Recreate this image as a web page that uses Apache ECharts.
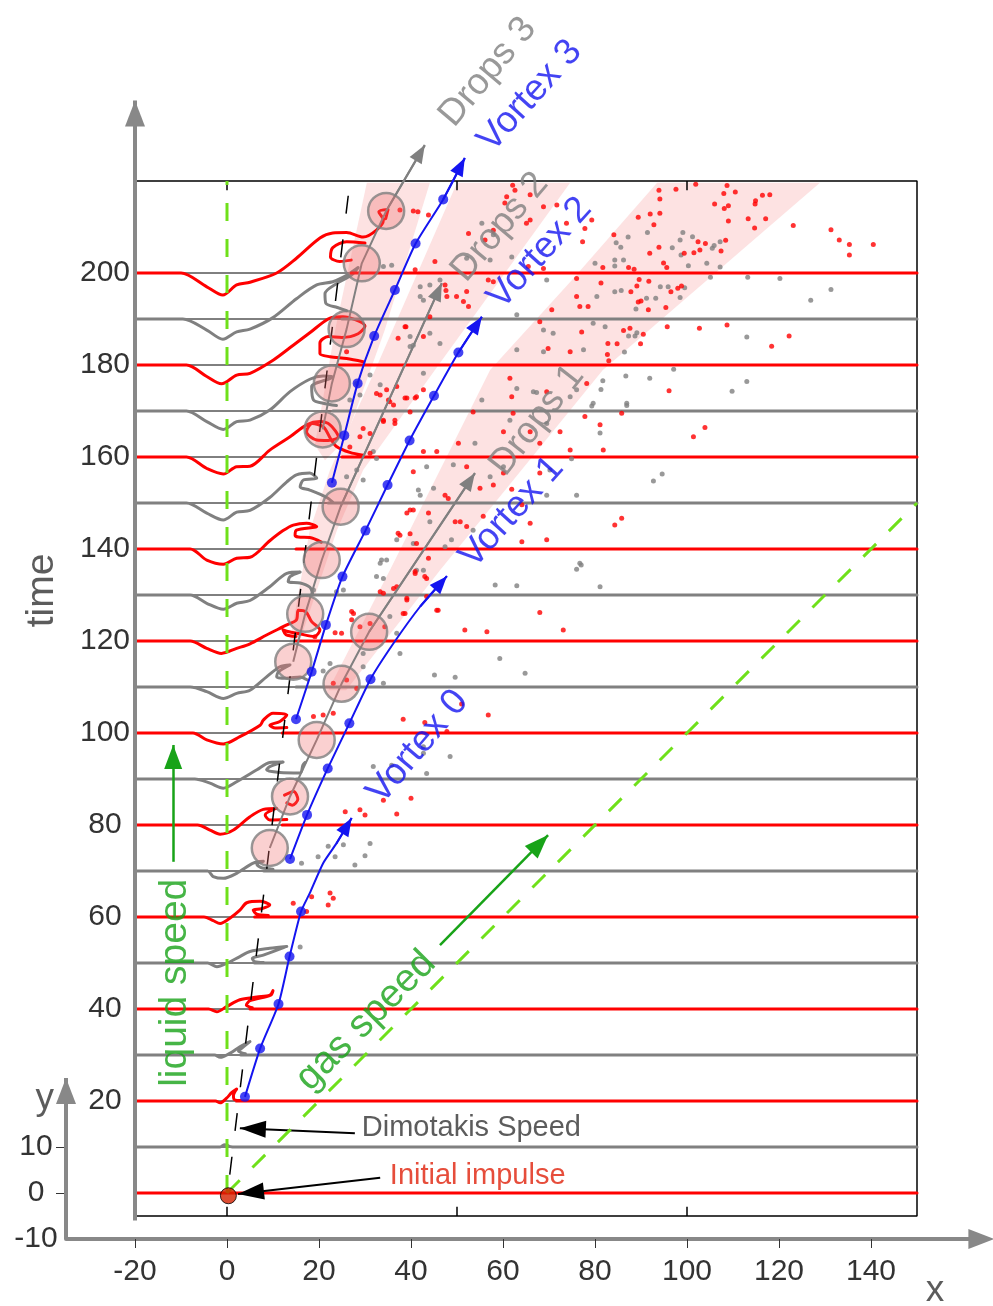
<!DOCTYPE html>
<html>
<head>
<meta charset="utf-8">
<script src="https://cdn.jsdelivr.net/npm/echarts@6.0.0/dist/echarts.min.js"></script>
<style>
html,body{margin:0;padding:0;background:#fff}
#chart{width:993px;height:1306px}
</style>
</head>
<body>
<div id="chart"></div>
<script>
const FONT = 'Liberation Sans, Arial, sans-serif';
const RED = '#ff0000', GRAY = '#808080', BLUE = '#1414f0', GREEN = '#18a318', LIGHTGREEN = '#6fe01a';

// tick labels
const xTicks = [-20, 0, 20, 40, 60, 80, 100, 120, 140];
const yTicks = [-10, 0, 10];
const yTickMarks = [0, 10];
const timeTicks = [20, 40, 60, 80, 100, 120, 140, 160, 180, 200];

// interface profiles, one per time level (null = pen up)
const levels = [0, 10, 20, 30, 40, 50, 60, 70, 80, 90, 100, 110, 120, 130, 140, 150, 160, 170, 180, 190, 200];
const prof0 = [[-20,0],[0,0]];
const prof10 = [[-20,10],[-1.5,10],[-0.5,10.5],[0.4,10.2],[1.2,10]];
const prof20 = [[-20,20],[-2.5,20],[-1.5,19.6],[-0.1,20.6],[1,21.8],[2.1,22.6],[1.4,21.2],[1.6,20.3],[3,20.1]];
const prof30 = [[-20,30],[-2.7,30],[-1.5,29.5],[0.7,30.4],[2.8,31.8],[5,32.9],[3.5,31.7],[2.5,30.8],[4,30.3]];
const prof40 = [[-20,40],[-4,40],[-2.2,39.4],[-0.1,40.5],[2.8,42],[6.5,42.6],[9.3,43],[10,44],[9.5,43],[5,41.8],[4.2,40.8],[5.5,40.3]];
const prof50 = [[-20,50],[-4.2,50],[-2.2,49.2],[-0.1,49.9],[2.8,51.4],[5,52.5],[9.3,53.2],[13,53.6],[7.9,51.7],[5.5,51],[6,50.3],[8,50.1]];
const prof60 = [[-20,60],[-5,60],[-3,59.2],[-1.5,58.6],[0.7,59.8],[2.8,61.5],[4.3,63.1],[7.2,63.4],[9.3,62.6],[7.5,61.8],[5.7,61.5],[6.5,60.6],[9,60.3]];
const prof70 = [[-20,70],[-4.2,70],[-3,68.8],[-0.8,68.4],[2.1,69.5],[5.7,71.7],[7.9,72.1],[6.5,71.4],[7.5,70.7],[10,70.4]];
const prof80 = [[-20,80],[-6.4,80],[-3.7,78.9],[-1.5,78],[1.4,78.9],[5,81.8],[7.9,83.4],[10.8,83.6],[8.3,82.2],[9.3,81.1],[13,81.2],null,[12.5,86.5],[14.5,87.3],[15.4,85.6],[14.2,84.3],[13,84.8]];
const prof90 = [[-20,90],[-7,90],[-3.7,89.1],[-0.8,88],[2.1,89.4],[6.5,92],[9.3,93.6],[12.2,93.7],[9.3,92.7],[8.6,92],[11.5,91.4],[15.9,91.3],[16.5,93],[17,93.6]];
const prof100 = [[-20,100],[-7.4,100],[-4.4,98.5],[-0.8,97.6],[2.8,99.2],[7.2,101.7],[7.9,102.8],[10,104.3],[13,103.9],[11.5,102.5],[9.3,101.7],[10.5,101.1],[13,101.2]];
const prof110 = [[-20,110],[-8,110],[-4.4,109],[-0.8,107.5],[2.1,108.6],[5,109.3],[8.6,112.2],[11.5,114.4],[13.7,114.8],[11.2,113.3],[10.8,112.2],[13,111.9],[15.9,112.2],[17.5,111.5]];
const prof120 = [[-20,120],[-8,120],[-4.4,118.4],[-1.2,117.3],[2.1,118.4],[5,119.4],[8.6,121.3],[13,123.5],[15.1,124.6],[15.5,126.7],[17.2,126.3],[18.4,124.2],[20.2,122.4],[19,121],[16,121.5],[13.5,122],[12.2,122.4],[12.8,121.4],[15,121]];
const prof130 = [[-20,130],[-8,130],[-4.4,128.2],[-0.8,126.9],[2.1,128.2],[5,128.8],[9.3,131.8],[13,134.7],[15.9,135],[13.7,134],[13.3,132.9],[15.9,132.6],[18,131.7],[18.6,130.4]];
const prof140 = [[-20,140],[-8,140],[-4.4,137.6],[-0.8,136.7],[2.1,138],[5,138.2],[9.3,141.8],[12.2,144],[14.4,145.2],[17.3,145.6],[19.5,144.9],[15.1,144.1],[14.8,143],[15.5,142.6],[18,142.5],[20.5,141.5]];
const prof150 = [[-20,150],[-8.8,150],[-4.4,147.8],[-0.8,146.3],[2.1,148],[5,148.4],[9.3,151.2],[13,154.6],[15.1,156.1],[18,156.5],[19.5,155.4],[16.6,155],[15.9,153.5],[18,152.8],[21.7,151.2],[23.1,150.1]];
const prof160 = [[-20,160],[-8.8,160],[-4.4,157.5],[-0.8,156.3],[2.1,157.9],[5,158],[9.3,161.5],[13.7,164.4],[17.3,167],[20.2,167.7],[22.4,167],[24.2,164.4],[22,163.6],[19.5,163.7],[17.3,165.5],[18.5,167.3],[21,166.5],[22.5,164],[23.8,162.3],[26.7,161],[29.6,160.4]];
const prof170 = [[-20,170],[-8.8,170],[-4.4,167.7],[-0.8,166],[2.1,167.7],[5,168],[9.3,170.2],[13.7,174.2],[18,176.9],[20.9,177.6],[23,177.4],[18.4,175.3],[18.8,172.4],[20.9,171.7],[23.8,171.2]];
const prof180 = [[-20,180],[-8.8,180],[-4.4,177.5],[-1.2,175.9],[2.1,177.8],[5,178.2],[10.1,181.1],[14.4,184.3],[18,187],[22.4,190.2],[25.2,190.5],[28,189.8],[30,188.5],[28.5,186.8],[25,186],[22,186.2],[20.2,184.8],[20.2,182.5],[22.4,181.8],[26,181.4],[29.6,180.7]];
const prof190 = [[-20,190],[-9.6,190],[-4.4,187.6],[-0.9,185.6],[2.1,187.2],[5,187.8],[10,190.3],[15.1,194.4],[19.5,197.4],[23,198.1],[26,199.5],[28.5,201.2],[27,199.5],[24,197.8],[21.3,195.5],[21.5,193.4],[24,192.5],[26,191.8]];
const prof200 = [[-20,200],[-10,200],[-4.4,197],[-0.9,195.2],[2.1,197.4],[5,198],[10.8,200],[15.1,203.2],[20.2,207.6],[23,208.7],[26,208.8],[29.6,207.8],[32.5,209.3],[34,211.5],[33,213.3],[35,213.8],[34.5,211.8],null,[30,206.5],[26,206.8],[23,205.5],[22.5,203.5],[24.5,202.5],[27,202.8]];
const profiles = [prof0, prof10, prof20, prof30, prof40, prof50, prof60, prof70, prof80, prof90, prof100, prof110, prof120, prof130, prof140, prof150, prof160, prof170, prof180, prof190, prof200];
// where the flat, undisturbed part of each level line starts again
const rightStart = [0, 1.2, 2, 3, 5, 6, 6, 8, 12, 15, 12, 15, 15, 16, 15, 22, 25, 23, 24, 25, 27];

// frame of the inner plot
const frame = [[-20,-5],[150,-5],[150,220],[-20,220],[-20,-5]];
const frameTicks = [0, 50, 100];

// vortex tracks (dots) and their arrow tails
const vortex0 = [[3.9,20.9],[7.2,31.4],[11.2,41.1],[13.6,51.4],[16.1,61.2]];
const vortex0Tail = [[18,65.2],[20.9,71.7],[23.8,76],[27.1,81.5]];
const vortex1 = [[13.7,72.6],[17.4,82.2],[21.9,92.3],[26.6,102.1],[31.2,111.7]];
const vortex1Tail = [[36.2,119.5],[42,127.5],[47.8,134.1]];
const vortex2 = [[15,103],[18.4,113.3],[21.5,123.5],[25.1,134],[30.1,144],[34.9,153.9],[39.7,163.6],[45,173.3],[50.3,182.7]];
const vortex2Tail = [[55.4,190.5]];
const vortex3 = [[22.8,154.4],[25.5,164.7],[28.4,176],[32,186.3],[36.5,196.3],[41,206.4],[47,216]];
const vortex3Tail = [[51.7,225]];

// drop clusters (circles) and arrow tips
const drops1 = [[9.3,75],[13.7,86.2],[19.5,98.5],[24.9,110.7],[30.9,122]];
const drops1Tip = [53.9,156.5];
const drops2 = [[14.4,115.5],[17,125.9],[20.6,137.6],[24.7,149.2]];
const drops2Tip = [46.7,197.8];
const drops3 = [[20.8,166],[22.8,176],[26,187.8],[29.3,202.1],[34.6,213.5]];
const drops3Tip = [43,227.8];

// pink spray bands
const band1 = [[93.5,219.6],[75,198.5],[57.2,178.9],[35.4,135.4],[22,109.3],[25.9,109.3],[46.3,135.4],[81.7,178.9],[128.9,219.6]];
const band2 = [[50,219.6],[32.2,178.9],[22.4,157.2],[18,144.1],[13.7,120.2],[15.9,120.2],[23.9,144.1],[29.6,157.2],[45.2,178.9],[74.6,219.6]];
const band3 = [[30.4,219.6],[23.5,187.6],[19.1,162.6],[21.3,159.3],[25.7,163.7],[34.3,187.6],[44.1,219.6]];

// droplets
const redDrops = [
[93.9,218],[97.6,218.2],[101.9,219.3],[108.7,219],[110.5,217.6],[108,217.3],[94.1,216.1],[106,215],[109,214.6],[108.1,214],[114.9,215.7],[116.4,216.9],[118,217],[114.8,215],[89.4,212.1],[92,212.8],[94.1,213],[92.8,210.5],[109,211.3],[113.3,211.8],[117.1,211.8],[114.7,209.8],[123.1,210.3],[131.3,209.4],[133.1,207.2],[135.3,206.2],[135.3,203.9],[140.5,206.2],[84.1,208.3],[102.4,206.8],[104,206.4],[108.4,207.1],[107.4,204.8],[102.8,205],[101.5,204.4],[99.4,204.3],[91.9,204.3],[93.9,205.6],[94.9,202.2],[81.7,201.2],[87.3,201.2],[88.5,200.8],[95.6,201.2],[89.6,198.6],[91.7,198.2],[81.3,197.8],[89.1,197.2],[87.8,195.9],[96.5,195.9],[98,196.7],[98.8,197.2],[90,193.9],[89.4,193.7],[95.4,192.5],[91.6,192],[95.7,188.3],[102.7,188],[108.7,188.7],[86.2,187.5],[87.6,188],[90.5,186.7],[82.8,184.7],[84.8,184.6],[89.9,184.6],[118.4,184.1],[122.2,186.3],[82.7,182.3],[83,180.9],[96.1,174.4],[85.8,169.5],
[62.1,219.1],[62.6,218],[60.8,216.6],[60.4,215.2],[65.9,217],[68.8,214.4],[71.7,214.8],[73.8,210.8],[79.3,211.5],[77.8,209.7],[77.3,206.8],[65.9,211.5],[65.1,210.8],[52.5,208.6],[57.9,209.3],[56.1,207.2],[45.2,202.5],[47.4,197.4],[47.6,196.2],[47.8,194.9],[49.9,194.9],[52.5,192.7],[51.4,193.8],[56.8,198.5],[57.9,198.1],[65.5,201.4],[68.8,201],[76,198.8],[76,194.9],[76.7,192.7],[78.5,192.7],[70.6,192],[68,189.4],[77.1,187.2],[74.6,182.9],[69.8,183.6],[38.9,188.3],[44.1,190.5],[37.2,185.8],[41.5,213.3],[43.8,212.6],[52.1,196],
[33.3,173.5],[35.4,172],[36.9,175.3],[38.7,172.8],[41.2,173.1],[34,167.7],[36.5,167.3],[29.6,166.2],[31.1,160.8],[45.6,161.2],[50.3,163],[53.5,169.8],[62.2,169.5],[60.1,165.5],[61.9,173.1],[65.9,165.5],[68,163],[74.6,161.5],[77.8,168.8],[81.1,167],[81.8,161.5],[68,156.5],[60.1,156.5],[57.9,153.9],[55,153.2],[52.1,157.9],[47.4,151.7],[48.1,151],[39.8,148.5],[43.8,147.8],[50.7,145.9],[52.1,144.9],[55.7,147.1],[64.1,149.6],[65.9,145.6],[69.5,142],[37.2,143.4],[39.8,143.3],[43.8,138],[84.3,145.2],[85.8,146.7],[78.2,176],[69.5,174.2],[72.4,165.5],[61.5,177.1],
[101.4,164.4],[103.9,166.4],[61.9,153],[49.6,145.9],[64.1,141.6],[45.9,126.7],[68,126.2],[51.7,122.4],[56.5,122],[73.1,122.4],
[40.9,134.7],[43.4,133.6],[36.9,131.8],[33.3,130.7],[43.4,129.7],[39.1,128.9],[45.6,126.7],[38.7,126],[34.3,123.1],[27.5,126],[27.1,124.6],[23.5,121.8],[24.9,121.7],[51,106.3],[56.8,103.9],[38.3,103],[43,102.3],[47.8,100.3],[34,85.4],[40,85.8],[25.7,82.9],[28.9,83.3],[36.9,82.4],[23.1,110.8],[26,111.5],[28.2,109.7],[18.8,103.6],[20.9,103.9],[23.1,104.3],[28.9,123.1],[31.1,123.8],
[30,82.2],[22.4,65.2],[23.1,64.1],[22,62.6],[18.4,64.4],[17.3,61.2],[14.4,63],
[32.5,173.8],[35.1,172.4],[36.2,171.3],[34.7,174.6],[39.1,172.8],[40.9,172.8],[39.8,169.8],[42.7,174.6],[36.5,168],[34,168],[31.1,165.1],[28.9,164.4],[26.7,162.2],[39.1,147.8],[40.5,148.5],[37.6,143],[42.7,161.2],[40.5,156.8],[26,182.9],
[37.6,213.7],[40.5,213.5],[40.9,200.7],[38.7,188.3],[42.7,186.2],
[41.2,141.2],[40.9,135.1],[43,134],[39.1,129.3],[38.3,126],[36.2,131.4],[34,130.4],[27.1,126.4],[19.1,120.9]
];
const grayDrops = [
[84.6,206.6],[85.6,205.6],[87.2,207.8],[91.4,208.8],[99.1,208.8],[98.5,207.2],[101.2,207.9],[96.8,205.5],[98.7,203.9],[105.5,205.4],[105.9,206],[107.2,206.8],[84.3,202.8],[86.2,202.8],[84.3,201.5],[100.3,201.6],[104.3,202.1],[107.2,201.3],[105.1,199.1],[113.2,199.1],[120.2,198.8],[131.3,196.4],[126.9,194.1],[84.3,195.9],[85.7,196.2],[94.2,197],[95.9,197],[99.5,196.8],[98.5,194.7],[91.2,194.5],[93.2,194.5],[88.9,192.2],[82.2,188.3],[87.3,186.3],[88.7,186.3],[89.1,187],[113,186.1],[86.4,182.8],[97.1,179.1],[91.9,177.1],[86.7,177.6],[81.7,176.6],[81.3,174.7],[109.8,174.3],[113,176.4],[86.9,171.2],
[55.4,210.8],[57.9,208.3],[61.9,203.5],[57.2,202.8],[52.1,203.2],[44.1,197.4],[42,194.9],[46.3,198.5],[63,190.9],[69.5,198.5],[80,202.1],[80.4,194.9],[79.6,189.1],[68.8,187.6],[70.9,186.9],[68.8,182.9],[77.5,183.3],[44.1,186.9],[39.8,184],[46.3,184.7],[63,183.3],
[28.9,173.5],[33.3,175.7],[55.4,172.4],[61.5,168],[63,174.9],[66.6,174.2],[69.5,167.3],[74.6,173.1],[79.6,171.7],[81.1,165.2],[86.9,171.7],[53.9,163],[49.2,158.3],[57.2,155.7],[60.1,157.9],[69.5,151.7],[76,151.7],[70.2,157.2],[41.6,152.8],[44.9,153.2],[44.1,145.9],[48.8,142],[47.4,140.5],[53.5,144.1],[76.7,136.9],[33.6,137.6],[36.9,142],
[67.3,174],[76,174.6],[79.3,171.1],[74.9,159.6],[92.7,154.8],[94.6,156.3],[58.3,132.2],[63,132],[76,135.6],[77,136.5],[81.1,131.8],
[33.3,136.9],[42.7,135.4],[59.3,116.2],[64.8,113],[49.6,112.1],[45.1,112.6],[42.7,97],[48.5,94.9],[43.4,91.2],[31.8,92.7],[31.1,76],[25.3,75.7],[30,73.3],[29.6,117.3],[35.4,125.3],
[27.8,71.3],[19.8,73.1],[23.5,73.1],[22,75.4],[16.2,71.7],[35.8,93],[42.7,95.6],
[40.5,184.3],[31.1,177.8],[28.2,176],[26.7,172.4],[29.6,155],[28.2,157.2],[26,155.7],[31.8,161.2],[32.5,159.7],[42,151.7],[43.4,157.9],[42.7,178.2],
[34,201.4],[35.8,201.7],[42,197],[42.7,194.1],[39.8,186.2],
[40.5,141.2],[34.7,137.6],[34,133.6],[32.5,134],[41.2,135.4],[36.9,121.7],[37.6,117.3],[25.3,131.1],[23.8,130.7],[20.9,113.5],[22.4,115.1],[29.6,114.4],[34,110.8],[18.8,131.1],
[15.9,53.5]
];

// speed lines
const liquidSpeed = [[0,0],[0,220]];
const gasSpeed = [[0,0],[150,150]];
const dimotakis = [[0.6,4],[26.5,218]];
const impulse = [[0.3,-0.6]];

// arrows [from, to]
const axisArrows = [[[-20,-6],[-20,237.5]], [[-35,-10],[-35,25]]];
const noteArrows = [[[27.8,13],[2.8,14.1]], [[33.3,3.3],[2.4,-0.2]]];
const greenArrows = [[[-11.7,72],[-11.7,97.4]], [[46.3,53.9],[69.8,77.8]]];

// text annotations: text, x, y, rotation, colour, size, align
const notes = [
  ['Drops 3', 56.7, 243.7, 50, GRAY, 37, 'center'],
  ['Vortex 3', 65.9, 238.5, 48, BLUE, 37, 'center'],
  ['Drops 2', 59.3, 210, 50, GRAY, 37, 'center'],
  ['Vortex 2', 68, 204.3, 48, BLUE, 37, 'center'],
  ['Drops 1', 67.4, 168, 52, GRAY, 37, 'center'],
  ['Vortex 1', 61.9, 148, 48, BLUE, 37, 'center'],
  ['Vortex 0', 41.5, 97, 50, BLUE, 37, 'center'],
  ['liquid speed', -11.3, 45.7, 90, GREEN, 39, 'center'],
  ['gas speed', 30.2, 37.4, 45, GREEN, 39, 'center'],
  ['Dimotakis Speed', 29.3, 14.1, 0, '#333333', 29, 'left'],
  ['Initial impulse', 35.4, 3.7, 0, '#e0200a', 29, 'left'],
  ['time', -40.2, 131, 90, '#333333', 39, 'center'],
  ['x', 153.9, -21.3, 0, '#333333', 37, 'center'],
  ['y', -39.6, 20.4, 0, '#333333', 37, 'center']
];

const GAP = ['-', '-'];
const series = [];

// arrow heads sit with their tip on the end point
function headLine(pairs, color, width, head, z) {
  return { silent: true, animation: false, symbol: ['none', 'triangle'], symbolSize: head,
    symbolOffset: [0, [0, head[1] / 2]], label: { show: false },
    lineStyle: { color: color, width: width, type: 'solid' }, emphasis: { disabled: true },
    data: pairs.map(p => [{ coord: p[0] }, { coord: p[1] }]) };
}
function arrowSeries(pairs, color, width, head, z) {
  return { type: 'line', z: z, silent: true, data: [], markLine: headLine(pairs, color, width, head) };
}

// spray bands
const bands = [band1, band2, band3];
series.push({
  type: 'custom', z: 1, silent: true,
  data: bands.map((b, i) => [b[0][0], b[0][1], i]),
  renderItem: function (params, api) {
    const pts = bands[params.dataIndex].map(p => api.coord(p));
    return { type: 'polygon', shape: { points: pts }, style: { fill: '#fde2e2' } };
  }
});

// frame
series.push({ type: 'line', z: 2, silent: true, symbol: 'none', data: frame, lineStyle: { color: '#000', width: 1.5 } });
const tickSegs = [];
frameTicks.forEach(x => { tickSegs.push([x, -5], [x, -3], GAP, [x, 220], [x, 218], GAP); });
series.push({ type: 'line', z: 2, silent: true, symbol: 'none', data: tickSegs, lineStyle: { color: '#000', width: 1.5 } });

// undisturbed level baselines
const baseData = [];
levels.forEach(lv => { baseData.push([-20, lv], [150, lv], GAP); });
series.push({ type: 'line', z: 3, silent: true, symbol: 'none', data: baseData, lineStyle: { color: '#000', width: 1 } });

// interface profiles
levels.forEach((lv, i) => {
  const col = lv % 20 === 0 ? RED : GRAY;
  const pts = profiles[i].map(p => p === null ? GAP : p);
  const data = pts.concat([GAP, [rightStart[i], lv], [150, lv]]);
  series.push({ type: 'line', z: 4, silent: true, symbol: 'none', smooth: 0.3, data: data,
    lineStyle: { color: col, width: 3, join: 'round', cap: 'round' } });
});

// droplets
series.push({ type: 'scatter', z: 5, silent: true, symbolSize: 5, data: grayDrops, itemStyle: { color: GRAY } });
series.push({ type: 'scatter', z: 5, silent: true, symbolSize: 5, data: redDrops, itemStyle: { color: RED } });

// speed lines
series.push({ type: 'line', z: 6, silent: true, symbol: 'none', data: liquidSpeed, lineStyle: { color: LIGHTGREEN, width: 3, type: [18, 18] } });
series.push({ type: 'line', z: 6, silent: true, symbol: 'none', data: gasSpeed, lineStyle: { color: LIGHTGREEN, width: 3, type: [18, 18] } });
series.push({ type: 'line', z: 6, silent: true, symbol: 'none', data: dimotakis, lineStyle: { color: '#000', width: 1.5, type: [18, 26] } });

// drop clusters
const dropTracks = [[drops1, drops1Tip], [drops2, drops2Tip], [drops3, drops3Tip]];
dropTracks.forEach(t => {
  const path = t[0].concat([t[1]]);
  series.push({ type: 'line', z: 7, silent: true, symbol: 'none', data: path, lineStyle: { color: GRAY, width: 2 },
    markLine: headLine([[path[path.length - 2], path[path.length - 1]]], GRAY, 2, [14, 18]) });
});
series.push({ type: 'scatter', z: 8, silent: true, symbolSize: 36, data: drops1.concat(drops2, drops3),
  itemStyle: { color: 'rgba(240,110,110,0.4)', borderColor: GRAY, borderWidth: 2.5 } });

// vortex tracks
const vortexTracks = [[vortex0, vortex0Tail], [vortex1, vortex1Tail], [vortex2, vortex2Tail], [vortex3, vortex3Tail]];
vortexTracks.forEach(t => {
  const path = t[0].concat(t[1]);
  series.push({ type: 'line', z: 9, silent: true, symbol: 'none', smooth: 0.2, data: path, lineStyle: { color: BLUE, width: 2 },
    markLine: headLine([[path[path.length - 2], path[path.length - 1]]], BLUE, 2, [14, 18]) });
  series.push({ type: 'scatter', z: 10, silent: true, symbolSize: 10, data: t[0], itemStyle: { color: BLUE } });
});

// arrows
series.push(arrowSeries(axisArrows, '#888888', 4, [20, 26], 11));
series.push(arrowSeries(noteArrows, '#000000', 2, [17, 26], 11));
series.push(arrowSeries(greenArrows, GREEN, 2.5, [18, 24], 11));

// initial impulse
series.push({ type: 'scatter', z: 12, silent: true, symbolSize: 16, data: impulse,
  itemStyle: { color: '#d42000', borderColor: '#000', borderWidth: 1 } });

// texts
series.push({ type: 'scatter', z: 13, silent: true, clip: false, symbolSize: 1,
  itemStyle: { color: 'rgba(0,0,0,0)' },
  label: { show: true, formatter: '{b}', position: 'inside', fontFamily: FONT },
  data: notes.map(n => ({ name: n[0], value: [n[1], n[2]],
    label: { rotate: n[3], color: n[4], fontSize: n[5], align: n[6], verticalAlign: 'middle' } })) });

const chart = echarts.init(document.getElementById('chart'), null, { renderer: 'canvas' });
chart.setOption({
  animation: false,
  backgroundColor: '#fff',
  textStyle: { fontFamily: FONT },
  grid: { left: 66, right: 11.6, top: 43, bottom: 67, containLabel: false },
  xAxis: {
    type: 'value', min: -35, max: 164,
    axisLine: { onZero: false, lineStyle: { color: '#888', width: 4 }, symbol: ['none', 'triangle'], symbolSize: [20, 26], symbolOffset: [0, 0] },
    axisTick: { customValues: xTicks, length: 9, lineStyle: { color: '#333', width: 1 } },
    axisLabel: { customValues: xTicks, fontSize: 30, color: '#333', margin: 18, fontFamily: FONT },
    splitLine: { show: false }
  },
  yAxis: [{
    type: 'value', min: -10, max: 250, position: 'left',
    axisLine: { show: false, onZero: false },
    axisTick: { customValues: yTickMarks, length: 10, lineStyle: { color: '#333', width: 1 } },
    axisLabel: { customValues: yTicks, fontSize: 30, color: '#333', align: 'center', margin: 30, fontFamily: FONT },
    splitLine: { show: false }
  }, {
    type: 'value', min: -10, max: 250, position: 'left', offset: -71,
    axisLine: { show: false, onZero: false },
    axisTick: { show: false },
    axisLabel: { customValues: timeTicks, fontSize: 30, color: '#333', align: 'center', margin: 32, fontFamily: FONT },
    splitLine: { show: false }
  }],
  series: series
});
</script>
</body>
</html>
